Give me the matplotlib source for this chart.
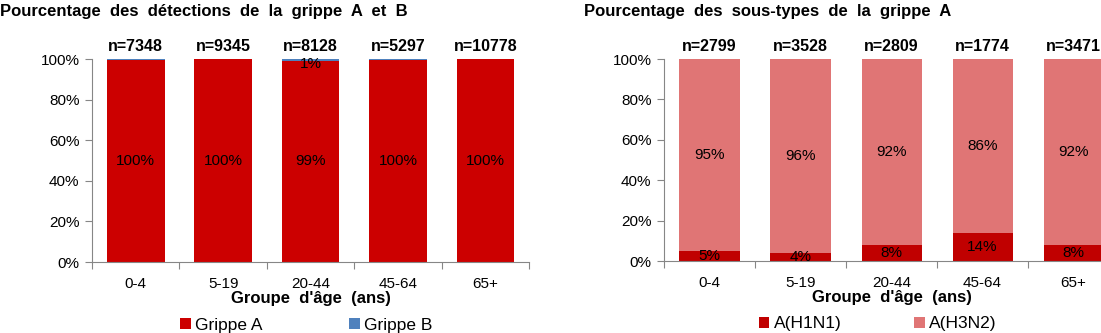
import numpy as np
import matplotlib
matplotlib.use('Agg')
import matplotlib.pyplot as plt

plt.rcParams['font.family'] = ['Liberation Sans', 'DejaVu Sans']

ages = ['0-4', '5-19', '20-44', '45-64', '65+']

# left panel: influenza A vs B (percent of detections)
n_ab = [7348, 9345, 8128, 5297, 10778]
grippe_a = [99.7, 99.8, 99.1, 99.7, 99.8]
grippe_b = [0.3, 0.2, 0.9, 0.3, 0.2]

# right panel: influenza A subtypes
n_sub = [2799, 3528, 2809, 1774, 3471]
h1n1 = [5, 4, 8, 14, 8]
h3n2 = [95, 96, 92, 86, 92]

RED = '#cc0000'
BLUE = '#4f81bd'
DARK = '#c00000'
LIGHT = '#e07575'
GREY = '#868686'

fig = plt.figure(figsize=(11.01, 3.33), dpi=100)
ax1 = fig.add_axes([0.0836, 0.2132, 0.397, 0.6096])
ax2 = fig.add_axes([0.6031, 0.2162, 0.4133, 0.6066])


def style(ax):
    x = np.arange(len(ages))
    ax.set_xlim(-0.5, len(ages) - 0.5)
    ax.set_ylim(0, 100)
    ax.set_yticks(range(0, 101, 20))
    ax.set_yticklabels([f'{v}%' for v in range(0, 101, 20)], fontsize=11)
    ax.set_xticks(np.arange(-0.5, len(ages)), labels=[''] * (len(ages) + 1))
    ax.set_xticks(x, labels=ages, minor=True, fontsize=11)
    ax.tick_params(axis='x', which='minor', length=0, pad=11)
    ax.tick_params(axis='both', which='major', length=5, color=GREY)
    ax.tick_params(axis='y', pad=4)
    for s in ('top', 'right'):
        ax.spines[s].set_visible(False)
    for s in ('left', 'bottom'):
        ax.spines[s].set_color(GREY)
    ax.set_xlabel("Groupe  d'âge  (ans)", fontsize=12, fontweight='bold', labelpad=0)
    return x


legend_kw = dict(loc='upper center', ncol=2, frameon=False, fontsize=12.5,
                 handlelength=0.6, handleheight=0.6, handletextpad=0.25,
                 borderaxespad=0)

x = style(ax1)
w = 0.66
ax1.bar(x, grippe_a, w, color=RED, label='Grippe A')
ax1.bar(x, grippe_b, w, bottom=grippe_a, color=BLUE, label='Grippe B')
for i in range(len(ages)):
    ax1.text(x[i], grippe_a[i] / 2, f'{round(grippe_a[i])}%', ha='center', va='center', fontsize=11)
    if round(grippe_b[i]) > 0:
        ax1.text(x[i], grippe_a[i] + grippe_b[i] / 2 - 2, f'{round(grippe_b[i])}%',
                 ha='center', va='center', fontsize=11)
    ax1.text(x[i], 102.5, f'n={n_ab[i]}', ha='center', va='bottom',
             fontsize=11.5, fontweight='bold', clip_on=False)
ax1.legend(bbox_to_anchor=(0.49, -0.24), columnspacing=5.0, **legend_kw)

x = style(ax2)
ax2.bar(x, h1n1, w, color=DARK, label='A(H1N1)')
ax2.bar(x, h3n2, w, bottom=h1n1, color=LIGHT, label='A(H3N2)')
for i in range(len(ages)):
    ax2.text(x[i], h1n1[i] / 2, f'{h1n1[i]}%', ha='center', va='center', fontsize=11)
    ax2.text(x[i], h1n1[i] + h3n2[i] / 2, f'{h3n2[i]}%', ha='center', va='center', fontsize=11)
    ax2.text(x[i], 102.5, f'n={n_sub[i]}', ha='center', va='bottom',
             fontsize=11.5, fontweight='bold', clip_on=False)
ax2.legend(bbox_to_anchor=(0.47, -0.24), columnspacing=4.2, **legend_kw)

fig.text(0.0, 0.965, 'Pourcentage  des  détections  de  la  grippe  A  et  B',
         fontsize=12, fontweight='bold', va='center', ha='left')
fig.text(0.5305, 0.965, 'Pourcentage  des  sous-types  de  la  grippe  A',
         fontsize=12, fontweight='bold', va='center', ha='left')

fig.savefig('out.png', dpi=100)
